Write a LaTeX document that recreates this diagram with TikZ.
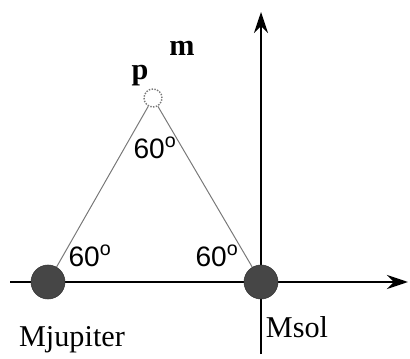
\documentclass[tikz,border=0pt]{standalone}
\usepackage{fontspec}
\setmainfont{Liberation Serif}
\newfontfamily\anglefont{Liberation Sans}
\usepackage{xcolor}
\usetikzlibrary{arrows.meta, positioning, calc}
\definecolor{planetgray}{RGB}{70,70,70}
\definecolor{legray}{RGB}{120,120,120}

\begin{document}
\begin{tikzpicture}[every node/.style={font=\fontsize{21.5}{24}\selectfont},
    planet/.style={circle, fill=planetgray, draw=black!80, minimum size=0.85cm, inner sep=0pt},
    angle/.style={font=\anglefont\fontsize{20}{22}\selectfont}]
            \useasboundingbox (0,0) rectangle (10.25,8.95);
            % axes
            \coordinate (xl) at (0.25,1.9);
            \coordinate (xr) at (10.2,1.9);
            \coordinate (yb) at (6.525,0.1);
            \coordinate (yt) at (6.525,8.65);
            \draw[-{Stealth[length=15pt, width=10pt]}, line width=1.9pt] (xl) -- (xr);
            \draw[-{Stealth[length=15pt, width=10pt]}, line width=1.3pt] (yb) -- (yt);
            % bodies
            \node[planet] (jup) at (1.2,1.9) {};
            \node[planet] (sol) at (6.525,1.9) {};
            \node[circle, draw=legray, line width=1pt, densely dotted, fill=white, minimum size=0.45cm, inner sep=0pt] (p) at (3.825,6.5) {};
            \draw[legray, line width=0.7pt] (jup) -- (p) -- (sol);
            % labels
            \node (m) at (4.55,7.75) {\textbf{m}};
            \node (plab) at (3.5,7.05) {\textbf{p}};
            \node[angle] (atop) at (3.875,5.25) {60\textsuperscript{o}};
            \node[angle] (aleft) at (2.25,2.55) {60\textsuperscript{o}};
            \node[angle] (aright) at (5.425,2.55) {60\textsuperscript{o}};
            \node (jname) at (1.8,0.45) {Mjupiter};
            \node (sname) at (7.425,0.775) {Msol};
        \end{tikzpicture}
\end{document}
